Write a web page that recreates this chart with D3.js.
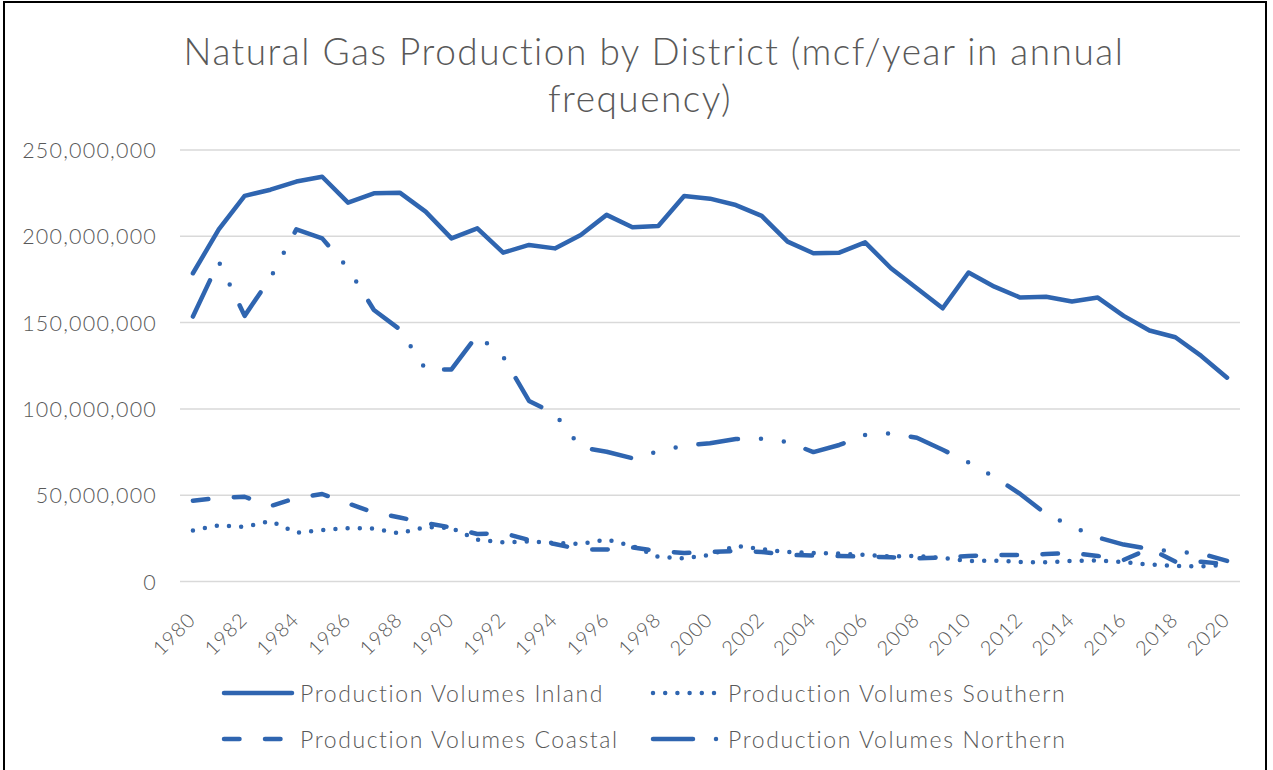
<!DOCTYPE html>
<html>
<head>
<meta charset="utf-8">
<script src="https://cdn.jsdelivr.net/npm/d3@7"></script>
<style>
    body { margin: 0; background: #fff; }
    svg text { font-family: 'Lato', 'Open Sans', sans-serif; font-weight: 300; fill: #595959; }
</style>
</head>
<body>
<div id="chart"></div>
<script>
// categories
const years = [1980, 1981, 1982, 1983, 1984, 1985, 1986, 1987, 1988, 1989,
    1990, 1991, 1992, 1993, 1994, 1995, 1996, 1997, 1998, 1999,
    2000, 2001, 2002, 2003, 2004, 2005, 2006, 2007, 2008, 2009,
    2010, 2011, 2012, 2013, 2014, 2015, 2016, 2017, 2018, 2019, 2020];

// series values, in millions of mcf
const inland = [178.6, 204, 223.4, 227, 231.7, 234.5, 219.5, 224.9, 225.3, 214.3,
    198.8, 204.6, 190.5, 195, 193, 200.8, 212.4, 205.2, 206, 223.4,
    221.8, 218.1, 211.8, 196.9, 190.2, 190.5, 196.5, 181.5, 169.9, 158.3,
    179, 170.8, 164.5, 165, 162.2, 164.5, 153.9, 145.4, 141.5, 130.7, 118.1];
const southern = [29.5, 32.6, 31.6, 35, 28.3, 29.8, 30.9, 30.7, 27.9, 31.6,
    31, 24.3, 22.7, 23.2, 22.3, 21.7, 24.4, 20.6, 14.2, 13.4,
    15.4, 20.7, 18.7, 17.1, 16.5, 16.2, 15.4, 14.5, 14.8, 13.6,
    11.9, 12.1, 11.3, 11.1, 11.9, 12.2, 11.3, 9.8, 9.0, 8.8, 9.6];
const coastal = [46.8, 48.4, 49.1, 43.7, 48.4, 50.7, 45.2, 40, 37.1, 33.9,
    31.3, 27.5, 28.1, 24, 21.7, 18.5, 18.5, 19.7, 17.7, 16.5,
    17.1, 17.7, 17.1, 15.4, 15.1, 14.8, 14.4, 14, 13.4, 13.9,
    14.8, 15.4, 15.4, 15.9, 16.5, 14.8, 12.5, 19, 11.5, 11.5, 10];
const northern = [153.5, 185.3, 153.9, 176, 204, 198.8, 181.5, 157.3, 146.1, 122.9,
    122.9, 142.8, 130.2, 104.6, 97.1, 77.7, 75.2, 71.4, 75.4, 78.7,
    80.1, 82.6, 82.7, 80.8, 75, 79.1, 84.9, 85.8, 83.3, 76.3,
    69, 60.5, 50.7, 39.1, 31.9, 25.5, 21.4, 18.8, 17.4, 16.2, 11.9];

// y ticks and x tick labels
const yTicks = [0, 50000000, 100000000, 150000000, 200000000, 250000000];
const xLabels = [1980, 1982, 1984, 1986, 1988, 1990, 1992, 1994, 1996, 1998, 2000,
    2002, 2004, 2006, 2008, 2010, 2012, 2014, 2016, 2018, 2020];

const seriesNames = ["Production Volumes Inland", "Production Volumes Southern",
    "Production Volumes Coastal", "Production Volumes Northern"];

const lineColor = "#2f65b0";
const lineWidth = 4.5;
const dashes = ["none", "0,12.2", "15.5,25.5", "40,23,0,23,0,23"];

const width = 1273, height = 770;
const plot = { left: 180, right: 1240, top: 150, bottom: 581.5 };

const svg = d3.select("#chart").append("svg")
    .attr("width", width)
    .attr("height", height);

svg.append("rect")
    .attr("width", width).attr("height", height)
    .attr("fill", "#fff");

// chart border
svg.append("rect")
    .attr("x", 4).attr("y", 2)
    .attr("width", 1262).attr("height", 800)
    .attr("fill", "none")
    .attr("stroke", "#000")
    .attr("stroke-width", 2);

// title, two lines
svg.append("text")
    .attr("x", 654).attr("y", 50)
    .attr("text-anchor", "middle")
    .attr("dominant-baseline", "central")
    .style("font-size", "37px")
    .style("letter-spacing", "1.5px")
    .text("Natural Gas Production by District (mcf/year in annual");
svg.append("text")
    .attr("x", 640).attr("y", 97)
    .attr("text-anchor", "middle")
    .attr("dominant-baseline", "central")
    .style("font-size", "37px")
    .style("letter-spacing", "1.5px")
    .text("frequency)");

// scales
const x = d3.scalePoint()
    .domain(years)
    .range([plot.left, plot.right])
    .padding(0.5);

const y = d3.scaleLinear()
    .domain([0, 250000000])
    .range([plot.bottom, plot.top]);

// gridlines
svg.append("g")
    .selectAll("line")
    .data(yTicks)
    .enter().append("line")
    .attr("x1", plot.left).attr("x2", plot.right)
    .attr("y1", d => y(d)).attr("y2", d => y(d))
    .attr("stroke", "#d9d9d9")
    .attr("stroke-width", 1.5);

// y axis labels
const yAxis = svg.append("g")
    .attr("transform", `translate(${plot.left - 23},0)`)
    .call(d3.axisLeft(y).tickValues(yTicks).tickFormat(d3.format(",")).tickSize(0).tickPadding(0));
yAxis.select(".domain").remove();
yAxis.selectAll("text")
    .style("font-size", "21.5px")
    .style("letter-spacing", "1.2px")
    .style("font-family", null)
    .attr("fill", null)
    .attr("dy", "0.35em");

// x axis labels, rotated
svg.append("g")
    .selectAll("text")
    .data(xLabels)
    .enter().append("text")
    .attr("transform", d => `translate(${x(d) + 4},${621}) rotate(-45)`)
    .attr("text-anchor", "end")
    .style("font-size", "20px")
    .style("letter-spacing", "1px")
    .text(d => d);

// lines
const allSeries = [inland, southern, coastal, northern];
const line = d3.line()
    .x((d, i) => x(years[i]))
    .y(d => y(d * 1000000));

svg.append("g")
    .selectAll("path")
    .data(allSeries)
    .enter().append("path")
    .attr("d", line)
    .attr("fill", "none")
    .attr("stroke", lineColor)
    .attr("stroke-width", lineWidth)
    .attr("stroke-linecap", "round")
    .attr("stroke-linejoin", "round")
    .attr("stroke-dasharray", (d, i) => dashes[i]);

// legend, 2 x 2
const legendPos = [
    { x: 222, y: 693 }, { x: 651, y: 693 },
    { x: 222, y: 739 }, { x: 651, y: 739 }
];
const legend = svg.append("g")
    .selectAll("g")
    .data(seriesNames)
    .enter().append("g")
    .attr("transform", (d, i) => `translate(${legendPos[i].x},${legendPos[i].y})`);

legend.append("line")
    .attr("x1", 2).attr("x2", (d, i) => i % 2 === 0 ? 70 : 66)
    .attr("stroke", lineColor)
    .attr("stroke-width", lineWidth)
    .attr("stroke-linecap", "round")
    .attr("stroke-dasharray", (d, i) => dashes[i]);

legend.append("text")
    .attr("x", (d, i) => i % 2 === 0 ? 78 : 77)
    .attr("dominant-baseline", "central")
    .style("font-size", "23px")
    .style("letter-spacing", "1.6px")
    .text(d => d);
</script>
</body>
</html>
